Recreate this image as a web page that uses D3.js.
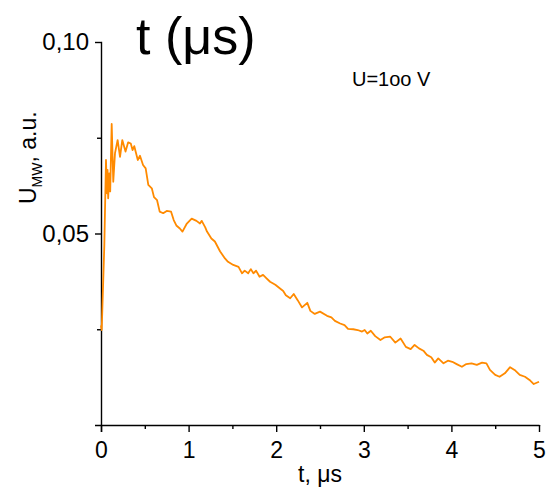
<!DOCTYPE html>
<html>
<head>
<meta charset="utf-8">
<script src="https://cdn.jsdelivr.net/npm/d3@7"></script>
<style>
  body { margin: 0; background: #fff; }
  text { font-family: Arial, "Liberation Sans", sans-serif; fill: #000; }
</style>
</head>
<body>
<script>
// время, мкс
const tValues = [0.000, 0.008, 0.015, 0.038, 0.057, 0.068, 0.075, 0.082, 0.094, 0.105,
  0.122, 0.140, 0.160, 0.190, 0.217, 0.243, 0.280, 0.310, 0.340, 0.360,
  0.380, 0.420, 0.445, 0.480, 0.510, 0.540, 0.580, 0.605, 0.640, 0.670,
  0.710, 0.750, 0.800, 0.830, 0.860, 0.900, 0.930, 0.980, 1.035, 1.090,
  1.130, 1.150, 1.190, 1.210, 1.260, 1.300, 1.360, 1.415, 1.450, 1.510,
  1.570, 1.610, 1.640, 1.680, 1.710, 1.740, 1.770, 1.810, 1.850, 1.890,
  1.930, 1.990, 2.040, 2.080, 2.110, 2.160, 2.200, 2.245, 2.295, 2.355,
  2.390, 2.440, 2.500, 2.580, 2.630, 2.670, 2.730, 2.780, 2.820, 2.880,
  2.930, 2.980, 3.010, 3.040, 3.080, 3.130, 3.190, 3.240, 3.300, 3.360,
  3.420, 3.480, 3.535, 3.580, 3.630, 3.680, 3.720, 3.770, 3.810, 3.850,
  3.910, 3.960, 4.010, 4.060, 4.120, 4.170, 4.230, 4.290, 4.350, 4.400,
  4.440, 4.500, 4.550, 4.610, 4.670, 4.730, 4.780, 4.840, 4.900, 4.940, 5.000]

// сигнал U_MW, отн. ед.
const uValues = [0.0260, 0.0248, 0.0300, 0.0470, 0.0692, 0.0605, 0.0666, 0.0592, 0.0657, 0.0610,
  0.0786, 0.0635, 0.0710, 0.0744, 0.0700, 0.0744, 0.0714, 0.0738, 0.0735, 0.0718,
  0.0728, 0.0692, 0.0703, 0.0679, 0.0670, 0.0627, 0.0618, 0.0595, 0.0587, 0.0557,
  0.0553, 0.0559, 0.0557, 0.0535, 0.0521, 0.0513, 0.0505, 0.0526, 0.0539, 0.0533,
  0.0526, 0.0533, 0.0516, 0.0505, 0.0487, 0.0479, 0.0453, 0.0435, 0.0426, 0.0418,
  0.0413, 0.0396, 0.0403, 0.0396, 0.0407, 0.0396, 0.0403, 0.0387, 0.0392, 0.0383,
  0.0374, 0.0366, 0.0357, 0.0350, 0.0339, 0.0331, 0.0342, 0.0326, 0.0307, 0.0319,
  0.0298, 0.0290, 0.0296, 0.0285, 0.0281, 0.0272, 0.0265, 0.0261, 0.0251, 0.0250,
  0.0248, 0.0244, 0.0248, 0.0239, 0.0246, 0.0232, 0.0222, 0.0229, 0.0231, 0.0215,
  0.0226, 0.0204, 0.0198, 0.0209, 0.0200, 0.0194, 0.0183, 0.0177, 0.0163, 0.0174,
  0.0161, 0.0168, 0.0165, 0.0159, 0.0152, 0.0159, 0.0161, 0.0157, 0.0163, 0.0161,
  0.0144, 0.0131, 0.0126, 0.0135, 0.0151, 0.0142, 0.0131, 0.0126, 0.0116, 0.0107, 0.0113]

// тики
const xMajor = [0, 1, 2, 3, 4, 5]
const xMinor = [0.5, 1.5, 2.5, 3.5, 4.5]
const yMajor = [0.05, 0.10]
const yMinor = [0.025, 0.075]

const width = 548, height = 491
const margin = {top: 42, right: 9, bottom: 66, left: 101}

const svg = d3.select('body').append('svg').attr('width', width).attr('height', height)

const x = d3.scaleLinear().domain([0, 5]).range([margin.left, width - margin.right])
const y = d3.scaleLinear().domain([0, 0.10]).range([height - margin.bottom, margin.top])

const fmt = d => d3.format('.2f')(d).replace('.', ',')

// ось x
const gx = svg.append('g').attr('transform', `translate(0,${y(0)})`)
gx.call(d3.axisBottom(x).tickValues(xMajor).tickSize(7).tickPadding(10).tickFormat(d3.format('d')))
gx.append('g').call(d3.axisBottom(x).tickValues(xMinor).tickSize(4).tickFormat(''))
  .select('.domain').remove()

// ось y
const gy = svg.append('g').attr('transform', `translate(${x(0)},0)`)
gy.call(d3.axisLeft(y).tickValues(yMajor).tickSize(6).tickPadding(6).tickFormat(fmt))
gy.append('g').call(d3.axisLeft(y).tickValues(yMinor).tickSize(4).tickFormat(''))
  .select('.domain').remove()

svg.selectAll('.domain').attr('stroke-width', 1.4).attr('d', function () {
  return d3.select(this).attr('d').replace(/V6|V7|H-6/g, m => m[0] + '0')
})
svg.selectAll('.tick line').attr('stroke-width', 1.4)
gx.selectAll('.tick text').style('font-size', '23px').style('font-family', 'Arial, "Liberation Sans"')
gy.selectAll('.tick text').style('font-size', '24px').style('font-family', 'Arial, "Liberation Sans"')

// кривая
const line = d3.line().x((d, i) => x(tValues[i])).y(d => y(d))
svg.append('path').datum(uValues)
  .attr('fill', 'none').attr('stroke', '#ff8a00').attr('stroke-width', 1.8)
  .attr('stroke-linejoin', 'round').attr('d', line)

// подписи
svg.append('text').attr('x', (x(0) + x(5)) / 2).attr('y', 482)
  .attr('text-anchor', 'middle').style('font-size', '23px').text('t, μs')

const yl = svg.append('text')
  .attr('transform', `translate(36,${(y(0.10) + y(0.05)) / 2 + 20}) rotate(-90)`)
  .attr('text-anchor', 'middle').style('font-size', '23px')
yl.append('tspan').text('U')
yl.append('tspan').attr('dy', 6).style('font-size', '14px').text('MW')
yl.append('tspan').attr('dy', -6).text(', a.u.')

svg.append('text').attr('x', 352).attr('y', 86).style('font-size', '20px').text('U=1oo V')

svg.append('text').attr('x', 136).attr('y', 54).style('font-size', '52px').text('t (μs)')
</script>
</body>
</html>
